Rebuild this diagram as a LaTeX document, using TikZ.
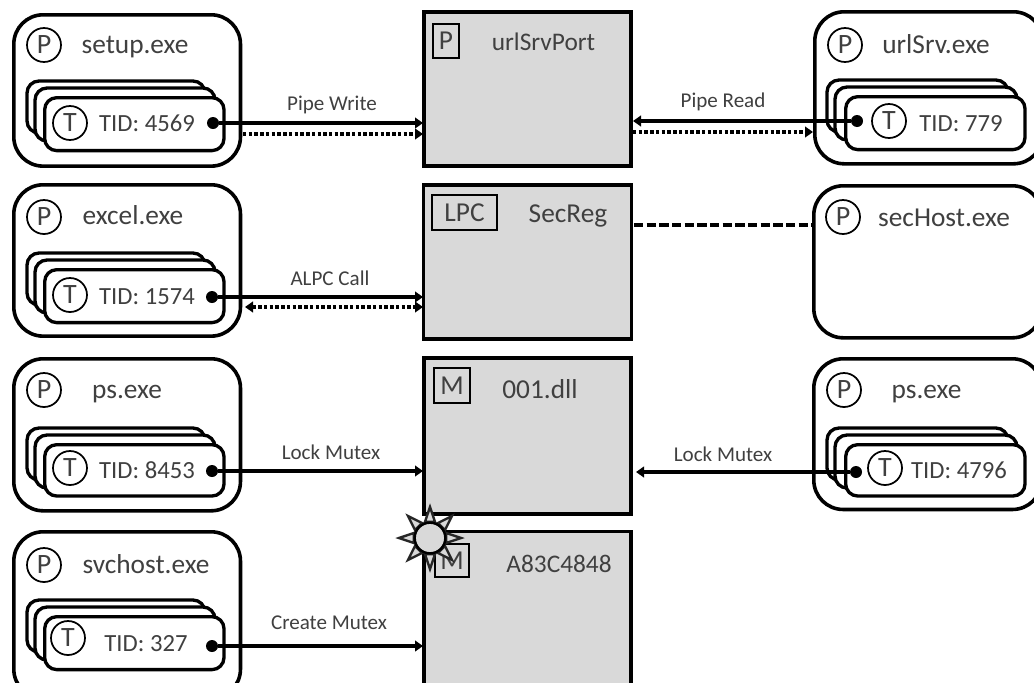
\documentclass[tikz,border=0pt]{standalone}
\usepackage{fontspec}
\setmainfont{Carlito}
\usetikzlibrary{arrows.meta}
\definecolor{txt}{HTML}{404040}
\definecolor{port}{HTML}{D9D9D9}
\tikzset{
  x=0.75pt,y=-0.75pt,
  lbl/.style={text=txt,font=\fontsize{20.5}{22}\selectfont,inner sep=0pt,anchor=base,yshift=-0.75pt},
  lblb/.style={lbl,font=\fontsize{19}{21}\selectfont},
  tidl/.style={text=txt,font=\fontsize{18.5}{20}\selectfont,inner sep=0pt,anchor=base,yshift=-0.75pt},
  small/.style={text=txt,font=\fontsize{15.8}{18}\selectfont,inner sep=0pt,anchor=base,yshift=-0.75pt},
  procbox/.style={draw=black,line width=2.7pt,rounded corners=22pt,fill=white,inner sep=0pt,anchor=north west},
  thr/.style={draw=black,line width=2.5pt,rounded corners=9pt,fill=white},
  front/.style={thr,minimum width=134.5pt,inner sep=0pt,anchor=north west},
  tag/.style={draw=black,line width=1.3pt,circle,minimum size=25.5pt,inner sep=0pt,text=txt,font=\fontsize{21}{22}\selectfont},
  objbox/.style={draw=black,line width=2.7pt,fill=port,inner sep=0pt,anchor=north west},
  objtag/.style={draw=black,line width=1.4pt,fill=port,text=txt,font=\fontsize{20.5}{22}\selectfont,inner sep=0pt},
  pin/.style={circle,fill=black,minimum size=9pt,inner sep=0pt},
  solidarrow/.style={line width=2.6pt,-{Triangle[length=6pt,width=8pt]}},
  dotarrow/.style={line width=2.6pt,dash pattern=on 2.6pt off 1.7pt,-{Triangle[length=6pt,width=8pt]}},
  dotboth/.style={line width=2.6pt,dash pattern=on 2.6pt off 1.7pt,{Triangle[length=6pt,width=8pt]}-{Triangle[length=6pt,width=8pt]}},
  spike/.style={draw=black!85,line width=1.8pt,fill=port,line join=miter},
}
% name, front top y, front height (pt)
\newcommand{\leftstack}[3]{%
  \draw[thr] (27,#2-15) rectangle (205,#2+37);
  \draw[thr] (35,#2-8) rectangle (215,#2+45);
  \node[front,minimum height=#3] (#1) at (43,#2) {};
}
\newcommand{\rightstack}[3]{%
  \draw[thr] (827,#2-15) rectangle (1008,#2+37);
  \draw[thr] (835,#2-8) rectangle (1017,#2+45);
  \node[front,minimum height=#3] (#1) at (844,#2) {};
}
\begin{document}
\begin{tikzpicture}
\useasboundingbox (0,0) rectangle (1034,682);
\clip (0,0) rectangle (1034,682);
% central objects
\node[objbox,minimum width=155.5pt,minimum height=115.7pt] (urlport) at (422,10) {};
\node[objtag,minimum width=19.6pt,minimum height=25.6pt] (tagP) at (446,41) {P};
\node[lblb] (urlportl) at (543.5,49) {urlSrvPort};
\node[objbox,minimum width=156pt,minimum height=115.5pt] (secreg) at (421.5,183) {};
\node[objtag,minimum width=49pt,minimum height=26.3pt] (tagL) at (464.5,212.5) {LPC};
\node[lbl] (secregl) at (568,221) {SecReg};
\node[objbox,minimum width=155.5pt,minimum height=117pt] (dll) at (422,356) {};
\node[objtag,minimum width=27pt,minimum height=26.3pt] (tagM) at (452,385.5) {M};
\node[lbl] (dlll) at (540,397) {001.dll};
\node[objbox,minimum width=155.5pt,minimum height=130pt] (mutex) at (422,529.5) {};
\node[objtag,minimum width=25.6pt,minimum height=24.85pt] (tagN) at (452,560.5) {M};
\node[lblb] (mutexl) at (559,571) {A83C4848};
% left processes
\node[procbox,minimum width=170pt,minimum height=113.5pt] (p1) at (12,13) {};
\node[tag] (p1t) at (44,45) {P};
\node[lbl] (p1l) at (135,52) {setup.exe};
\leftstack{t1}{96}{39.7pt}
\node[tag] (t1t) at (70,123) {T};
\node[tidl] (t1l) at (147,130.5) {TID: 4569};
\node[pin] (d1) at (213,123) {};
\node[procbox,minimum width=170pt,minimum height=113.5pt] (p2) at (12,183) {};
\node[tag] (p2t) at (44,217) {P};
\node[lbl] (p2l) at (133,223) {excel.exe};
\leftstack{t2}{268}{39.7pt}
\node[tag] (t2t) at (70,295) {T};
\node[tidl] (t2l) at (147,303) {TID: 1574};
\node[pin] (d2) at (212,297) {};
\node[procbox,minimum width=170pt,minimum height=114pt] (p3) at (12,357) {};
\node[tag] (p3t) at (44,390) {P};
\node[lbl] (p3l) at (127,397) {ps.exe};
\leftstack{t3}{443}{38.5pt}
\node[tag] (t3t) at (70,468) {T};
\node[tidl] (t3l) at (147,477) {TID: 8453};
\node[pin] (d3) at (212,471) {};
\node[procbox,minimum width=170pt,minimum height=125pt] (p4) at (12,530) {};
\node[tag] (p4t) at (44,565) {P};
\node[lbl] (p4l) at (146,572) {svchost.exe};
\leftstack{t4}{615}{39.7pt}
\node[tag] (t4t) at (68,638) {T};
\node[tidl] (t4l) at (146,650) {TID: 327};
\node[pin] (d4) at (212,646) {};
% right processes
\node[procbox,minimum width=171pt,minimum height=114pt] (q1) at (813,10) {};
\node[tag] (q1t) at (845,45) {P};
\node[lbl] (q1l) at (936,52) {urlSrv.exe};
\rightstack{u1}{95}{39.7pt}
\node[tag] (u1t) at (889,121) {T};
\node[tidl] (u1l) at (961,130) {TID: 779};
\node[pin] (e1) at (857,121) {};
\node[procbox,minimum width=171pt,minimum height=114pt] (q2) at (812,184) {};
\node[tag] (q2t) at (843,217) {P};
\node[lbl] (q2l) at (944,225) {secHost.exe};
\node[procbox,minimum width=171pt,minimum height=113pt] (q3) at (812,357) {};
\node[tag] (q3t) at (844,390) {P};
\node[lbl] (q3l) at (926.5,397) {ps.exe};
\rightstack{u3}{443}{38.5pt}
\node[tag] (u3t) at (885,468) {T};
\node[tidl] (u3l) at (959,477) {TID: 4796};
\node[pin] (e3) at (856,472) {};
% connector end points
\coordinate (a1) at (423,123);
\coordinate (b1s) at (243,134);
\coordinate (b1e) at (423,134);
\coordinate (a2) at (423,297);
\coordinate (b2s) at (245,307);
\coordinate (b2e) at (423,307);
\coordinate (a3) at (423,471);
\coordinate (a4) at (423,646);
\coordinate (c1) at (633,121);
\coordinate (f1s) at (633,132);
\coordinate (f1e) at (813,132);
\coordinate (g2s) at (634,225);
\coordinate (g2e) at (812,225);
\coordinate (c3) at (636,472);
% connectors
\draw[solidarrow] (d1) -- (a1);
\draw[dotarrow] (b1s) -- (b1e);
\draw[solidarrow] (d2) -- (a2);
\draw[dotboth] (b2s) -- (b2e);
\draw[solidarrow] (d3) -- (a3);
\draw[solidarrow] (d4) -- (a4);
\draw[solidarrow] (e1) -- (c1);
\draw[dotarrow] (f1s) -- (f1e);
\draw[line width=2.7pt,dash pattern=on 7pt off 2.5pt] (g2s) -- (g2e);
\draw[solidarrow] (e3) -- (c3);
% labels
\node[small] (l1) at (332,109) {Pipe Write};
\node[small] (l2) at (330,284) {ALPC Call};
\node[small] (l3) at (331,458) {Lock Mutex};
\node[small] (l4) at (329,628) {Create Mutex};
\node[small] (l5) at (723,106) {Pipe Read};
\node[small] (l6) at (723,460) {Lock Mutex};
% sun
\foreach \a in {0,45,...,315}{
  \draw[spike] ([shift={(\a+17:17)}]430,538) -- ([shift={(\a:31)}]430,538) -- ([shift={(\a-17:17)}]430,538) -- cycle;
}
\node[draw=black,line width=1.8pt,fill=port,circle,minimum size=23pt,inner sep=0pt] (sun) at (430,538) {};
\end{tikzpicture}
\end{document}
